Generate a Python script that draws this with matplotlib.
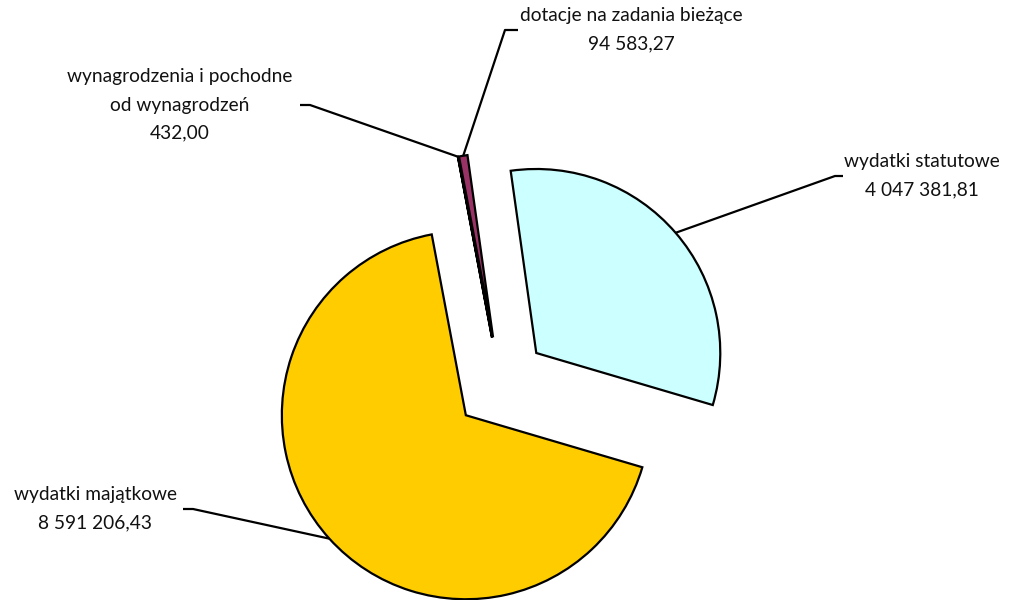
import matplotlib.pyplot as plt
import numpy as np

plt.rcParams['font.family'] = ['Lato', 'DejaVu Sans']

# slices in drawing order (clockwise)
labels = ["wydatki statutowe", "wydatki majątkowe",
          "wynagrodzenia i pochodne\nod wynagrodzeń", "dotacje na zadania bieżące"]
values = [4047381.81, 8591206.43, 432.00, 94583.27]
colors = ["#CCFFFF", "#FFCC00", "#9999FF", "#993366"]


def fmt(v):
    s = f"{v:,.2f}"
    return s.replace(",", " ").replace(".", ",")


fig = plt.figure(figsize=(10.09, 6), dpi=100)
ax = fig.add_axes([0, 0, 1, 1])

# explode is in data units here (radius is 184)
wedges, _ = ax.pie(values, colors=colors, startangle=98, counterclock=False,
                   explode=[47] * 4, radius=184, center=(500.7, 216.3),
                   wedgeprops=dict(edgecolor="black", linewidth=1.6))
ax.set_xlim(0, 1009)
ax.set_ylim(0, 600)
ax.set_aspect("equal")
ax.axis("off")

# label layout: (elbow x, elbow y, end x, text x) in pixel coords (y up)
layout = [
    (835, 424, 843, 922),
    (193, 91, 183, 95),
    (310, 495, 300, 180),
    (505, 570, 518, 631),
]

for w, lab, val, (ex, ey, hx, tx) in zip(wedges, labels, values, layout):
    mid = np.deg2rad((w.theta1 + w.theta2) / 2)
    cx, cy = w.center
    ax_, ay_ = cx + w.r * np.cos(mid), cy + w.r * np.sin(mid)
    ax.plot([ax_, ex, hx], [ay_, ey, ey], color="black", lw=1.6,
            solid_capstyle="butt", zorder=0)
    ax.text(tx, ey, f"{lab}\n{fmt(val)}", ha="center", va="center",
            fontsize=13.8, linespacing=1.8, color="#111111")

fig.savefig("out.png", dpi=100)
